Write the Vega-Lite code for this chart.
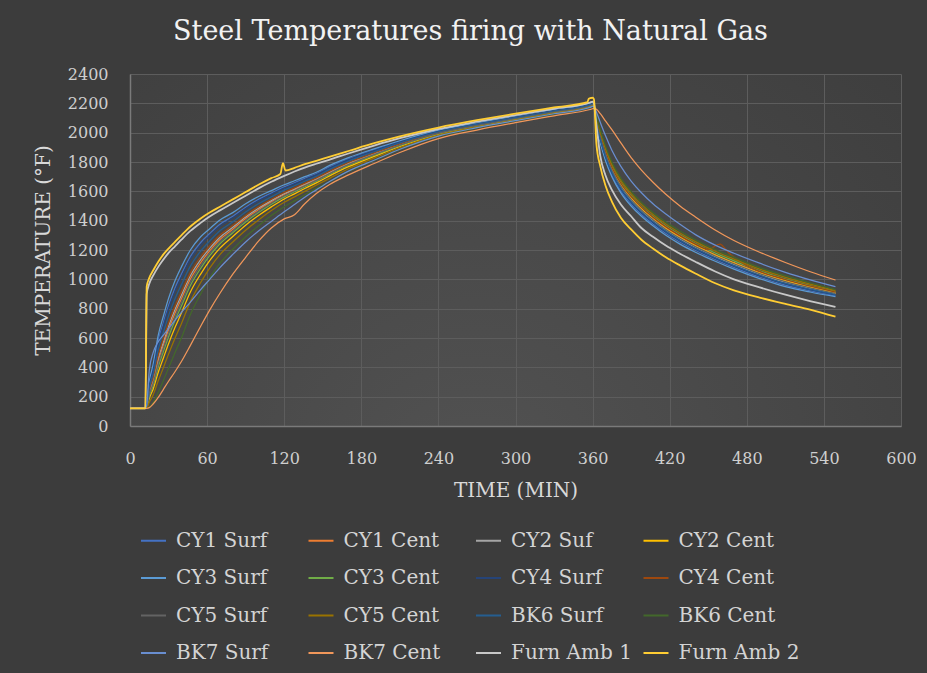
{
"$schema": "https://vega.github.io/schema/vega-lite/v6.json",
"width": 771, "height": 352,
"autosize": {"type": "none"},
"padding": {"left": 130, "top": 74, "right": 26, "bottom": 247},
"background": "#3c3c3c",
"title": {"text": "Steel Temperatures firing with Natural Gas", "font": "DejaVu Serif", "fontSize": 27, "fontWeight": "normal", "color": "#f2f2f2", "anchor": "middle", "frame": "group", "offset": 20, "dx": -45},
"data": {"values": [
{"t":0,"CY1 Surf":120,"CY1 Cent":120,"CY2 Suf":120,"CY2 Cent":120,"CY3 Surf":120,"CY3 Cent":120,"CY4 Surf":120,"CY4 Cent":120,"CY5 Surf":120,"CY5 Cent":120,"BK6 Surf":120,"BK6 Cent":120,"BK7 Surf":120,"BK7 Cent":120,"Furn Amb 1":120,"Furn Amb 2":120},
{"t":12,"CY1 Surf":120,"CY1 Cent":120,"CY2 Suf":120,"CY2 Cent":120,"CY3 Surf":120,"CY3 Cent":120,"CY4 Surf":120,"CY4 Cent":120,"CY5 Surf":120,"CY5 Cent":120,"BK6 Surf":120,"BK6 Cent":120,"BK7 Surf":120,"BK7 Cent":120,"Furn Amb 1":120,"Furn Amb 2":120},
{"t":13,"CY1 Surf":146,"CY1 Cent":134,"CY2 Suf":136,"CY2 Cent":127,"CY3 Surf":150,"CY3 Cent":131,"CY4 Surf":145,"CY4 Cent":138,"CY5 Surf":132,"CY5 Cent":122,"BK6 Surf":141,"BK6 Cent":120,"BK7 Surf":140,"BK7 Cent":120,"Furn Amb 1":900,"Furn Amb 2":950},
{"t":15,"CY1 Surf":283,"CY1 Cent":223,"CY2 Suf":231,"CY2 Cent":188,"CY3 Surf":300,"CY3 Cent":205,"CY4 Surf":274,"CY4 Cent":240,"CY5 Surf":214,"CY5 Cent":162,"BK6 Surf":257,"BK6 Cent":128,"BK7 Surf":380,"BK7 Cent":125,"Furn Amb 1":970,"Furn Amb 2":1010},
{"t":18,"CY1 Surf":394,"CY1 Cent":303,"CY2 Suf":316,"CY2 Cent":251,"CY3 Surf":420,"CY3 Cent":277,"CY4 Surf":381,"CY4 Cent":329,"CY5 Surf":290,"CY5 Cent":212,"BK6 Surf":355,"BK6 Cent":160,"BK7 Surf":500,"BK7 Cent":150,"Furn Amb 1":1025,"Furn Amb 2":1060},
{"t":22,"CY1 Surf":581,"CY1 Cent":444,"CY2 Suf":464,"CY2 Cent":366,"CY3 Surf":620,"CY3 Cent":405,"CY4 Surf":562,"CY4 Cent":484,"CY5 Surf":425,"CY5 Cent":308,"BK6 Surf":522,"BK6 Cent":230,"BK7 Surf":575,"BK7 Cent":195,"Furn Amb 1":1085,"Furn Amb 2":1120},
{"t":26,"CY1 Surf":706,"CY1 Cent":552,"CY2 Suf":574,"CY2 Cent":464,"CY3 Surf":750,"CY3 Cent":508,"CY4 Surf":684,"CY4 Cent":596,"CY5 Surf":530,"CY5 Cent":398,"BK6 Surf":640,"BK6 Cent":310,"BK7 Surf":620,"BK7 Cent":250,"Furn Amb 1":1135,"Furn Amb 2":1170},
{"t":30,"CY1 Surf":822,"CY1 Cent":656,"CY2 Suf":680,"CY2 Cent":561,"CY3 Surf":870,"CY3 Cent":609,"CY4 Surf":799,"CY4 Cent":704,"CY5 Surf":632,"CY5 Cent":490,"BK6 Surf":751,"BK6 Cent":395,"BK7 Surf":665,"BK7 Cent":305,"Furn Amb 1":1180,"Furn Amb 2":1210},
{"t":35,"CY1 Surf":941,"CY1 Cent":769,"CY2 Suf":794,"CY2 Cent":671,"CY3 Surf":990,"CY3 Cent":720,"CY4 Surf":916,"CY4 Cent":818,"CY5 Surf":745,"CY5 Cent":598,"BK6 Surf":867,"BK6 Cent":500,"BK7 Surf":720,"BK7 Cent":370,"Furn Amb 1":1225,"Furn Amb 2":1255},
{"t":40,"CY1 Surf":1036,"CY1 Cent":867,"CY2 Suf":891,"CY2 Cent":770,"CY3 Surf":1085,"CY3 Cent":818,"CY4 Surf":1012,"CY4 Cent":915,"CY5 Surf":842,"CY5 Cent":697,"BK6 Surf":964,"BK6 Cent":600,"BK7 Surf":775,"BK7 Cent":440,"Furn Amb 1":1270,"Furn Amb 2":1300},
{"t":47,"CY1 Surf":1156,"CY1 Cent":1002,"CY2 Suf":1024,"CY2 Cent":914,"CY3 Surf":1200,"CY3 Cent":958,"CY4 Surf":1134,"CY4 Cent":1046,"CY5 Surf":980,"CY5 Cent":848,"BK6 Surf":1090,"BK6 Cent":760,"BK7 Surf":845,"BK7 Cent":550,"Furn Amb 1":1330,"Furn Amb 2":1360},
{"t":55,"CY1 Surf":1251,"CY1 Cent":1114,"CY2 Suf":1134,"CY2 Cent":1036,"CY3 Surf":1290,"CY3 Cent":1075,"CY4 Surf":1232,"CY4 Cent":1154,"CY5 Surf":1095,"CY5 Cent":978,"BK6 Surf":1192,"BK6 Cent":900,"BK7 Surf":930,"BK7 Cent":680,"Furn Amb 1":1385,"Furn Amb 2":1415},
{"t":62,"CY1 Surf":1312,"CY1 Cent":1194,"CY2 Suf":1211,"CY2 Cent":1127,"CY3 Surf":1345,"CY3 Cent":1161,"CY4 Surf":1295,"CY4 Cent":1228,"CY5 Surf":1178,"CY5 Cent":1077,"BK6 Surf":1261,"BK6 Cent":1010,"BK7 Surf":1000,"BK7 Cent":790,"Furn Amb 1":1428,"Furn Amb 2":1455},
{"t":70,"CY1 Surf":1376,"CY1 Cent":1272,"CY2 Suf":1287,"CY2 Cent":1213,"CY3 Surf":1405,"CY3 Cent":1243,"CY4 Surf":1361,"CY4 Cent":1302,"CY5 Surf":1258,"CY5 Cent":1169,"BK6 Surf":1331,"BK6 Cent":1110,"BK7 Surf":1080,"BK7 Cent":905,"Furn Amb 1":1470,"Furn Amb 2":1495},
{"t":80,"CY1 Surf":1430,"CY1 Cent":1342,"CY2 Suf":1355,"CY2 Cent":1292,"CY3 Surf":1455,"CY3 Cent":1318,"CY4 Surf":1418,"CY4 Cent":1368,"CY5 Surf":1330,"CY5 Cent":1255,"BK6 Surf":1392,"BK6 Cent":1205,"BK7 Surf":1170,"BK7 Cent":1035,"Furn Amb 1":1520,"Furn Amb 2":1545},
{"t":90,"CY1 Surf":1492,"CY1 Cent":1414,"CY2 Suf":1425,"CY2 Cent":1369,"CY3 Surf":1515,"CY3 Cent":1391,"CY4 Surf":1481,"CY4 Cent":1436,"CY5 Surf":1402,"CY5 Cent":1335,"BK6 Surf":1459,"BK6 Cent":1290,"BK7 Surf":1255,"BK7 Cent":1150,"Furn Amb 1":1570,"Furn Amb 2":1595},
{"t":100,"CY1 Surf":1545,"CY1 Cent":1475,"CY2 Suf":1485,"CY2 Cent":1435,"CY3 Surf":1565,"CY3 Cent":1455,"CY4 Surf":1535,"CY4 Cent":1495,"CY5 Surf":1465,"CY5 Cent":1405,"BK6 Surf":1515,"BK6 Cent":1365,"BK7 Surf":1330,"BK7 Cent":1260,"Furn Amb 1":1620,"Furn Amb 2":1645},
{"t":110,"CY1 Surf":1588,"CY1 Cent":1528,"CY2 Suf":1537,"CY2 Cent":1494,"CY3 Surf":1605,"CY3 Cent":1512,"CY4 Surf":1580,"CY4 Cent":1546,"CY5 Surf":1520,"CY5 Cent":1469,"BK6 Surf":1562,"BK6 Cent":1435,"BK7 Surf":1395,"BK7 Cent":1350,"Furn Amb 1":1665,"Furn Amb 2":1690},
{"t":117,"Furn Amb 2":1718},
{"t":119,"Furn Amb 2":1792},
{"t":120,"CY1 Surf":1630,"CY1 Cent":1578,"CY2 Suf":1585,"CY2 Cent":1548,"CY3 Surf":1645,"CY3 Cent":1562,"CY4 Surf":1622,"CY4 Cent":1592,"CY5 Surf":1570,"CY5 Cent":1525,"BK6 Surf":1608,"BK6 Cent":1495,"BK7 Surf":1460,"BK7 Cent":1412,"Furn Amb 1":1705},
{"t":121,"Furn Amb 2":1742},
{"t":128,"CY1 Surf":1658,"CY1 Cent":1610,"CY2 Suf":1617,"CY2 Cent":1583,"CY3 Surf":1672,"CY3 Cent":1597,"CY4 Surf":1651,"CY4 Cent":1624,"CY5 Surf":1604,"CY5 Cent":1562,"BK6 Surf":1638,"BK6 Cent":1535,"BK7 Surf":1510,"BK7 Cent":1440,"Furn Amb 1":1735,"Furn Amb 2":1760},
{"t":136,"CY1 Surf":1688,"CY1 Cent":1644,"CY2 Suf":1650,"CY2 Cent":1619,"CY3 Surf":1700,"CY3 Cent":1631,"CY4 Surf":1681,"CY4 Cent":1656,"CY5 Surf":1638,"CY5 Cent":1600,"BK6 Surf":1669,"BK6 Cent":1575,"BK7 Surf":1560,"BK7 Cent":1515,"Furn Amb 1":1762,"Furn Amb 2":1785},
{"t":145,"CY1 Surf":1719,"CY1 Cent":1680,"CY2 Suf":1686,"CY2 Cent":1658,"CY3 Surf":1730,"CY3 Cent":1670,"CY4 Surf":1714,"CY4 Cent":1692,"CY5 Surf":1675,"CY5 Cent":1642,"BK6 Surf":1702,"BK6 Cent":1620,"BK7 Surf":1610,"BK7 Cent":1585,"Furn Amb 1":1788,"Furn Amb 2":1808},
{"t":155,"CY1 Surf":1764,"CY1 Cent":1726,"CY2 Suf":1731,"CY2 Cent":1704,"CY3 Surf":1775,"CY3 Cent":1714,"CY4 Surf":1758,"CY4 Cent":1736,"CY5 Surf":1720,"CY5 Cent":1687,"BK6 Surf":1748,"BK6 Cent":1665,"BK7 Surf":1665,"BK7 Cent":1645,"Furn Amb 1":1815,"Furn Amb 2":1835},
{"t":170,"CY1 Surf":1820,"CY1 Cent":1787,"CY2 Suf":1792,"CY2 Cent":1768,"CY3 Surf":1830,"CY3 Cent":1778,"CY4 Surf":1816,"CY4 Cent":1797,"CY5 Surf":1782,"CY5 Cent":1754,"BK6 Surf":1806,"BK6 Cent":1735,"BK7 Surf":1738,"BK7 Cent":1712,"Furn Amb 1":1858,"Furn Amb 2":1875},
{"t":190,"CY1 Surf":1882,"CY1 Cent":1854,"CY2 Suf":1858,"CY2 Cent":1838,"CY3 Surf":1890,"CY3 Cent":1846,"CY4 Surf":1878,"CY4 Cent":1862,"CY5 Surf":1850,"CY5 Cent":1826,"BK6 Surf":1870,"BK6 Cent":1810,"BK7 Surf":1812,"BK7 Cent":1790,"Furn Amb 1":1912,"Furn Amb 2":1928},
{"t":210,"CY1 Surf":1939,"CY1 Cent":1918,"CY2 Suf":1921,"CY2 Cent":1906,"CY3 Surf":1945,"CY3 Cent":1912,"CY4 Surf":1936,"CY4 Cent":1924,"CY5 Surf":1915,"CY5 Cent":1897,"BK6 Surf":1930,"BK6 Cent":1885,"BK7 Surf":1887,"BK7 Cent":1865,"Furn Amb 1":1962,"Furn Amb 2":1975},
{"t":240,"CY1 Surf":2011,"CY1 Cent":1997,"CY2 Suf":1999,"CY2 Cent":1989,"CY3 Surf":2015,"CY3 Cent":1993,"CY4 Surf":2009,"CY4 Cent":2001,"CY5 Surf":1995,"CY5 Cent":1983,"BK6 Surf":2005,"BK6 Cent":1975,"BK7 Surf":1977,"BK7 Cent":1960,"Furn Amb 1":2025,"Furn Amb 2":2035},
{"t":270,"CY1 Surf":2062,"CY1 Cent":2050,"CY2 Suf":2052,"CY2 Cent":2044,"CY3 Surf":2065,"CY3 Cent":2047,"CY4 Surf":2060,"CY4 Cent":2053,"CY5 Surf":2048,"CY5 Cent":2039,"BK6 Surf":2057,"BK6 Cent":2032,"BK7 Surf":2034,"BK7 Cent":2018,"Furn Amb 1":2075,"Furn Amb 2":2085},
{"t":300,"CY1 Surf":2107,"CY1 Cent":2096,"CY2 Suf":2098,"CY2 Cent":2090,"CY3 Surf":2110,"CY3 Cent":2094,"CY4 Surf":2106,"CY4 Cent":2100,"CY5 Surf":2095,"CY5 Cent":2086,"BK6 Surf":2102,"BK6 Cent":2080,"BK7 Surf":2082,"BK7 Cent":2068,"Furn Amb 1":2120,"Furn Amb 2":2130},
{"t":330,"CY1 Surf":2152,"CY1 Cent":2142,"CY2 Suf":2144,"CY2 Cent":2137,"CY3 Surf":2155,"CY3 Cent":2140,"CY4 Surf":2151,"CY4 Cent":2145,"CY5 Surf":2141,"CY5 Cent":2133,"BK6 Surf":2148,"BK6 Cent":2127,"BK7 Surf":2129,"BK7 Cent":2115,"Furn Amb 1":2163,"Furn Amb 2":2172},
{"t":356,"Furn Amb 2":2208},
{"t":357,"Furn Amb 2":2232},
{"t":358,"CY1 Surf":2195,"CY1 Cent":2185,"CY2 Suf":2187,"CY2 Cent":2180,"CY3 Surf":2198,"CY3 Cent":2183,"CY4 Surf":2194,"CY4 Cent":2188,"CY5 Surf":2184,"CY5 Cent":2176,"BK6 Surf":2191,"BK6 Cent":2170,"BK7 Surf":2172,"BK7 Cent":2158,"Furn Amb 1":2205,"Furn Amb 2":2235},
{"t":360,"CY1 Surf":2202,"CY1 Cent":2193,"CY2 Suf":2194,"CY2 Cent":2187,"CY3 Surf":2205,"CY3 Cent":2190,"CY4 Surf":2201,"CY4 Cent":2196,"CY5 Surf":2192,"CY5 Cent":2183,"BK6 Surf":2198,"BK6 Cent":2178,"BK7 Surf":2180,"BK7 Cent":2163,"Furn Amb 1":2212,"Furn Amb 2":2238},
{"t":361,"CY1 Surf":2199,"CY1 Cent":2190,"CY2 Suf":2191,"CY2 Cent":2184,"CY3 Surf":2202,"CY3 Cent":2187,"CY4 Surf":2198,"CY4 Cent":2193,"CY5 Surf":2189,"CY5 Cent":2180,"BK6 Surf":2195,"BK6 Cent":2175,"BK7 Surf":2178,"BK7 Cent":2166,"Furn Amb 1":2200,"Furn Amb 2":2228},
{"t":363,"CY1 Surf":2050,"CY1 Cent":2078,"CY2 Suf":2068,"CY2 Cent":2075,"CY3 Surf":2040,"CY3 Cent":2089,"CY4 Surf":2058,"CY4 Cent":2086,"CY5 Surf":2072,"CY5 Cent":2100,"BK6 Surf":2061,"BK6 Cent":2110,"BK7 Surf":2140,"BK7 Cent":2160,"Furn Amb 1":2050,"Furn Amb 2":1920},
{"t":366,"CY1 Surf":1944,"CY1 Cent":1980,"CY2 Suf":1966,"CY2 Cent":1975,"CY3 Surf":1930,"CY3 Cent":1993,"CY4 Surf":1952,"CY4 Cent":1988,"CY5 Surf":1970,"CY5 Cent":2006,"BK6 Surf":1957,"BK6 Cent":2020,"BK7 Surf":2070,"BK7 Cent":2130,"Furn Amb 1":1840,"Furn Amb 2":1770},
{"t":370,"CY1 Surf":1825,"CY1 Cent":1865,"CY2 Suf":1850,"CY2 Cent":1860,"CY3 Surf":1810,"CY3 Cent":1880,"CY4 Surf":1835,"CY4 Cent":1875,"CY5 Surf":1855,"CY5 Cent":1895,"BK6 Surf":1840,"BK6 Cent":1910,"BK7 Surf":1980,"BK7 Cent":2080,"Furn Amb 1":1710,"Furn Amb 2":1640},
{"t":375,"CY1 Surf":1715,"CY1 Cent":1755,"CY2 Suf":1740,"CY2 Cent":1750,"CY3 Surf":1700,"CY3 Cent":1770,"CY4 Surf":1725,"CY4 Cent":1765,"CY5 Surf":1745,"CY5 Cent":1785,"BK6 Surf":1730,"BK6 Cent":1800,"BK7 Surf":1880,"BK7 Cent":2020,"Furn Amb 1":1610,"Furn Amb 2":1530},
{"t":382,"CY1 Surf":1605,"CY1 Cent":1645,"CY2 Suf":1630,"CY2 Cent":1640,"CY3 Surf":1590,"CY3 Cent":1660,"CY4 Surf":1615,"CY4 Cent":1655,"CY5 Surf":1635,"CY5 Cent":1675,"BK6 Surf":1620,"BK6 Cent":1690,"BK7 Surf":1770,"BK7 Cent":1930,"Furn Amb 1":1510,"Furn Amb 2":1420},
{"t":390,"CY1 Surf":1515,"CY1 Cent":1555,"CY2 Suf":1540,"CY2 Cent":1550,"CY3 Surf":1500,"CY3 Cent":1570,"CY4 Surf":1525,"CY4 Cent":1565,"CY5 Surf":1545,"CY5 Cent":1585,"BK6 Surf":1530,"BK6 Cent":1600,"BK7 Surf":1670,"BK7 Cent":1830,"Furn Amb 1":1430,"Furn Amb 2":1340},
{"t":398,"CY1 Surf":1444,"CY1 Cent":1482,"CY2 Suf":1468,"CY2 Cent":1478,"CY3 Surf":1430,"CY3 Cent":1496,"CY4 Surf":1454,"CY4 Cent":1492,"CY5 Surf":1473,"CY5 Cent":1511,"BK6 Surf":1458,"BK6 Cent":1525,"BK7 Surf":1590,"BK7 Cent":1745,"Furn Amb 1":1350,"Furn Amb 2":1270},
{"t":407,"CY1 Surf":1378,"CY1 Cent":1416,"CY2 Suf":1401,"CY2 Cent":1410,"CY3 Surf":1365,"CY3 Cent":1428,"CY4 Surf":1388,"CY4 Cent":1424,"CY5 Surf":1406,"CY5 Cent":1442,"BK6 Surf":1392,"BK6 Cent":1455,"BK7 Surf":1515,"BK7 Cent":1662,"Furn Amb 1":1290,"Furn Amb 2":1210},
{"t":417,"CY1 Surf":1314,"CY1 Cent":1350,"CY2 Suf":1336,"CY2 Cent":1345,"CY3 Surf":1300,"CY3 Cent":1363,"CY4 Surf":1322,"CY4 Cent":1359,"CY5 Surf":1340,"CY5 Cent":1377,"BK6 Surf":1327,"BK6 Cent":1390,"BK7 Surf":1445,"BK7 Cent":1580,"Furn Amb 1":1230,"Furn Amb 2":1150},
{"t":428,"CY1 Surf":1254,"CY1 Cent":1290,"CY2 Suf":1276,"CY2 Cent":1285,"CY3 Surf":1240,"CY3 Cent":1303,"CY4 Surf":1262,"CY4 Cent":1298,"CY5 Surf":1280,"CY5 Cent":1316,"BK6 Surf":1267,"BK6 Cent":1330,"BK7 Surf":1375,"BK7 Cent":1500,"Furn Amb 1":1175,"Furn Amb 2":1095},
{"t":440,"CY1 Surf":1198,"CY1 Cent":1232,"CY2 Suf":1219,"CY2 Cent":1228,"CY3 Surf":1185,"CY3 Cent":1244,"CY4 Surf":1206,"CY4 Cent":1240,"CY5 Surf":1223,"CY5 Cent":1257,"BK6 Surf":1210,"BK6 Cent":1270,"BK7 Surf":1305,"BK7 Cent":1425,"Furn Amb 1":1120,"Furn Amb 2":1040},
{"t":450,"CY4 Cent":1205},
{"t":455,"CY1 Surf":1137,"CY1 Cent":1169,"CY2 Suf":1157,"CY2 Cent":1165,"CY3 Surf":1125,"CY3 Cent":1181,"CY4 Surf":1145,"CY5 Surf":1161,"CY5 Cent":1193,"BK6 Surf":1149,"BK6 Cent":1205,"BK7 Surf":1235,"BK7 Cent":1338,"Furn Amb 1":1055,"Furn Amb 2":975},
{"t":459,"CY4 Cent":1240},
{"t":466,"CY4 Cent":1180},
{"t":470,"CY1 Surf":1082,"CY1 Cent":1114,"CY2 Suf":1102,"CY2 Cent":1110,"CY3 Surf":1070,"CY3 Cent":1126,"CY4 Surf":1090,"CY5 Surf":1106,"CY5 Cent":1138,"BK6 Surf":1094,"BK6 Cent":1150,"BK7 Surf":1178,"BK7 Cent":1265,"Furn Amb 1":1000,"Furn Amb 2":925},
{"t":477,"CY4 Cent":1108},
{"t":490,"CY1 Surf":1016,"CY1 Cent":1046,"CY2 Suf":1035,"CY2 Cent":1042,"CY3 Surf":1005,"CY3 Cent":1058,"CY4 Surf":1024,"CY4 Cent":1054,"CY5 Surf":1039,"CY5 Cent":1069,"BK6 Surf":1028,"BK6 Cent":1080,"BK7 Surf":1110,"BK7 Cent":1185,"Furn Amb 1":945,"Furn Amb 2":875},
{"t":510,"CY1 Surf":961,"CY1 Cent":991,"CY2 Suf":980,"CY2 Cent":988,"CY3 Surf":950,"CY3 Cent":1002,"CY4 Surf":969,"CY4 Cent":999,"CY5 Surf":984,"CY5 Cent":1014,"BK6 Surf":972,"BK6 Cent":1025,"BK7 Surf":1048,"BK7 Cent":1115,"Furn Amb 1":895,"Furn Amb 2":832},
{"t":530,"CY1 Surf":921,"CY1 Cent":947,"CY2 Suf":937,"CY2 Cent":944,"CY3 Surf":912,"CY3 Cent":956,"CY4 Surf":928,"CY4 Cent":953,"CY5 Surf":940,"CY5 Cent":966,"BK6 Surf":931,"BK6 Cent":975,"BK7 Surf":995,"BK7 Cent":1050,"Furn Amb 1":850,"Furn Amb 2":792},
{"t":549,"CY1 Surf":889,"CY1 Cent":908,"CY2 Suf":901,"CY2 Cent":906,"CY3 Surf":882,"CY3 Cent":916,"CY4 Surf":894,"CY4 Cent":913,"CY5 Surf":904,"CY5 Cent":923,"BK6 Surf":896,"BK6 Cent":930,"BK7 Surf":950,"BK7 Cent":995,"Furn Amb 1":812,"Furn Amb 2":745}
]},
"transform": [
{"fold": ["CY1 Surf","CY1 Cent","CY2 Suf","CY2 Cent","CY3 Surf","CY3 Cent","CY4 Surf","CY4 Cent","CY5 Surf","CY5 Cent","BK6 Surf","BK6 Cent","BK7 Surf","BK7 Cent","Furn Amb 1","Furn Amb 2"], "as": ["series","value"]},
{"filter": "isValid(datum.value)"}
],
"mark": {"type": "line", "interpolate": "monotone"},
"encoding": {
"x": {"field": "t", "type": "quantitative", "scale": {"domain": [0,600], "nice": false},
  "axis": {"values": [0,60,120,180,240,300,360,420,480,540,600], "title": "TIME (MIN)", "labelPadding": 24, "titlePadding": 14, "labelFlush": false}},
"y": {"field": "value", "type": "quantitative", "scale": {"domain": [0,2400], "nice": false},
  "axis": {"values": [0,200,400,600,800,1000,1200,1400,1600,1800,2000,2200,2400], "format": "d", "title": "TEMPERATURE (°F)", "labelPadding": 22, "titlePadding": 14}},
"color": {"field": "series", "type": "nominal",
  "scale": {"domain": ["CY1 Surf","CY1 Cent","CY2 Suf","CY2 Cent","CY3 Surf","CY3 Cent","CY4 Surf","CY4 Cent","CY5 Surf","CY5 Cent","BK6 Surf","BK6 Cent","BK7 Surf","BK7 Cent","Furn Amb 1","Furn Amb 2"],
    "range": ["#4472C4","#ED7D31","#A5A5A5","#FFC000","#5B9BD5","#70AD47","#264478","#9E480E","#636363","#997300","#255E91","#43682B","#698ED0","#F1975A","#C8C8C8","#FFCD33"]},
  "legend": {"orient": "none", "legendX": 10, "legendY": 453, "columns": 4, "direction": "horizontal", "title": null, "symbolType": "stroke", "symbolSize": 625, "symbolStrokeWidth": 2, "labelFont": "DejaVu Serif", "labelFontSize": 20, "labelColor": "#d4d4d4", "labelOffset": 9, "columnPadding": 7.5, "rowPadding": 13.5, "gridAlign": "all", "padding": 0, "labelLimit": 300}},
"strokeWidth": {"condition": {"test": "datum.series === 'Furn Amb 1' || datum.series === 'Furn Amb 2'", "value": 1.8}, "value": 1.25}
},
"config": {
"font": "DejaVu Serif",
"view": {"stroke": null, "fill": {"gradient": "radial", "x1": 0.45, "y1": 0.8, "r1": 0, "x2": 0.45, "y2": 0.8, "r2": 0.85, "stops": [{"offset": 0, "color": "#525252"}, {"offset": 1, "color": "#3c3c3c"}]}},
"axis": {"gridColor": "#5d5d5d", "gridWidth": 1, "ticks": false, "domainColor": "#7a7a7a", "domainWidth": 1.5, "labelColor": "#cfcfcf", "labelFontSize": 16, "labelFont": "DejaVu Serif", "titleColor": "#d9d9d9", "titleFontSize": 20, "titleFontWeight": "normal", "titleFont": "DejaVu Serif"}
}
}
